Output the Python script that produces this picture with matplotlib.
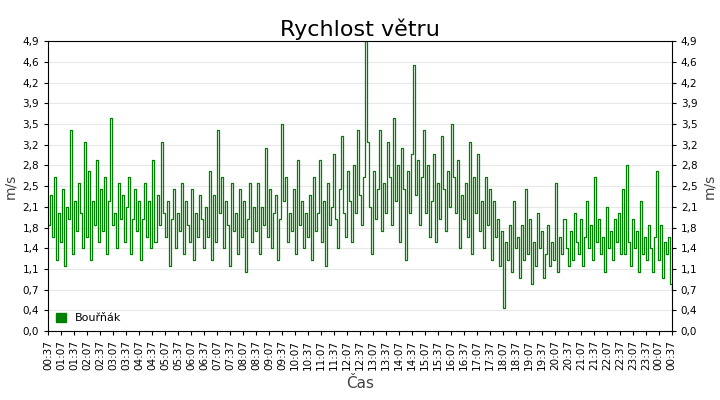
import matplotlib
matplotlib.use("Agg")
import matplotlib.pyplot as plt
import numpy as np

# wind speed, approx every ~5 minutes from 00:37 to 00:37 next day (m/s)
s1 = [1.8,2.3,1.6,2.6,1.2,2.0,1.5,2.4,1.1,2.1,1.9,3.4,1.3,2.2,1.7,2.5,2.0,1.4,3.2,1.6,2.7,1.2,2.2,1.8,2.9,1.5]
s2 = [2.4,1.7,2.6,1.3,2.2,3.6,1.8,2.0,1.4,2.5,1.9,2.3,1.5,2.1,2.6,1.3,1.9,2.4,1.7,2.2,1.2,1.9,2.5,1.6,2.2,1.4]
s3 = [2.9,1.5,2.3,1.8,3.2,2.0,1.6,2.2,1.1,1.9,2.4,1.4,2.0,1.7,2.5,1.3,2.2,1.8,1.5,2.4,1.2,2.0,1.6,2.3,1.9,1.4]
s4 = [2.1,1.6,2.7,1.2,2.3,1.5,3.4,2.0,2.6,1.4,2.2,1.8,1.1,2.5,1.7,2.0,1.3,2.4,1.6,2.2,1.0,1.9,2.5,1.5,2.1,1.7]
s5 = [2.5,1.3,2.1,1.8,3.1,1.6,2.4,1.4,2.0,2.3,1.2,1.9,3.5,2.2,2.6,1.5,2.0,1.7,2.4,1.3,2.9,1.8,2.2,1.4,2.0,1.6]
s6 = [2.3,1.2,2.6,1.7,2.0,2.9,1.5,2.2,1.1,2.5,1.8,2.1,3.0,1.9,1.4,2.4,3.3,2.0,1.6,2.7,2.2,1.5,2.8,2.0,3.4,2.3]
s7 = [1.8,2.6,4.9,3.2,2.1,1.3,2.7,1.9,2.4,3.4,1.7,2.5,2.0,3.2,2.6,1.8,3.6,2.2,2.8,1.5,3.1,2.4,1.2,2.7,2.0,3.0]
s8 = [4.5,2.3,2.9,1.8,2.6,3.4,2.0,2.8,1.6,2.2,3.0,1.5,2.5,1.9,3.3,2.4,1.7,2.7,2.1,3.5,2.6,2.0,2.9,1.4,2.3,1.9]
s9 = [2.5,1.6,3.2,1.3,2.6,2.0,3.0,1.7,2.2,1.4,2.6,1.8,2.4,1.2,2.2,1.6,1.9,1.1,1.7,0.4,1.5,1.2,1.8,1.0,2.2,1.4]
s10 = [1.6,0.9,1.8,1.2,2.4,1.3,1.9,0.8,1.5,1.1,2.0,1.4,1.7,0.9,1.3,1.8,1.1,1.5,1.2,2.5,1.0,1.6,1.3,1.9,1.4,1.1]
s11 = [1.7,1.2,2.0,1.5,1.3,1.9,1.1,1.6,2.2,1.4,1.8,1.2,2.6,1.5,1.9,1.3,1.6,1.0,2.1,1.4,1.7,1.2,1.9,1.5,2.0,1.3]
s12 = [2.4,1.3,2.8,1.5,1.1,1.9,1.4,1.7,1.0,2.2,1.3,1.6,1.2,1.8,1.4,1.0,1.6,2.7,1.2,1.8,0.9,1.5,1.3,1.6,0.8,0.7]
wind = s1+s2+s3+s4+s5+s6+s7+s8+s9+s10+s11+s12

tick_labels = [f"{(h)%24:02d}:{m:02d}" for h, m in
               [((k*30+37)//60, (k*30+37)%60) for k in range(49)]]

fig = plt.figure(figsize=(7.2, 4.0), dpi=100)
ax = fig.add_axes([0.067, 0.172, 0.866, 0.725])
x = np.linspace(0, 48, len(wind))
ax.step(x, wind, where="post", color="#008000", lw=0.9)
ax.set_xlim(0, 48)
ax.set_ylim(0, 4.9)
yt = np.linspace(0, 4.9, 15)
ax.set_yticks(yt)
ax.set_yticklabels([f"{v:.1f}".replace(".", ",") for v in yt], fontsize=7.5)
ax.set_xticks(range(49))
ax.set_xticklabels(tick_labels, rotation=90, fontsize=7.5)
ax.tick_params(axis="y", which="both", right=True, labelright=True, length=3)
ax.tick_params(axis="x", length=3)
ax.grid(axis="y", color="#e8e8e8", lw=0.8)
ax.set_axisbelow(True)
ax.set_ylabel("m/s", fontsize=10, color="#444444")
fig.text(0.985, 0.535, "m/s", rotation=90, fontsize=10, color="#444444",
         ha="center", va="center")
ax.set_xlabel("Čas", fontsize=11, color="#444444")
ax.set_title("Rychlost větru", fontsize=16, pad=4)
from matplotlib.patches import Patch
ax.legend(handles=[Patch(color="#008000", label="Bouřňák")], loc="lower left",
          frameon=False, fontsize=8, handlelength=0.9, handleheight=0.9,
          borderaxespad=0.3)
fig.savefig("out.png")
